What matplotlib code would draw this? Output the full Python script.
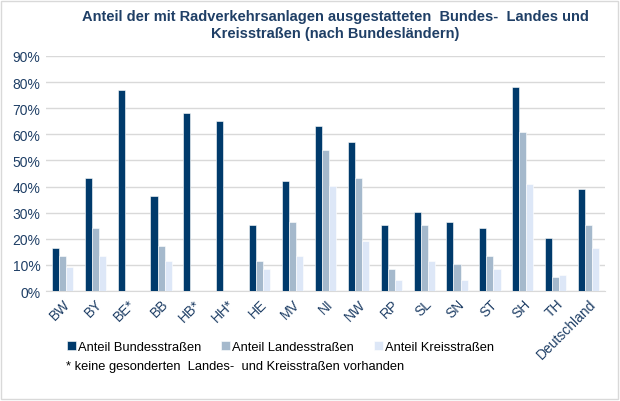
import numpy as np
import matplotlib.pyplot as plt

plt.rcParams['font.family'] = ['Liberation Sans', 'DejaVu Sans']

laender = ['BW', 'BY', 'BE*', 'BB', 'HB*', 'HH*', 'HE', 'MV', 'NI', 'NW',
           'RP', 'SL', 'SN', 'ST', 'SH', 'TH', 'Deutschland']
bund = [16.5, 43.3, 77, 36.4, 68.2, 65.2, 25.3, 42.2, 63.2, 57.1,
        25.3, 30.2, 26.5, 24.2, 78.2, 20.3, 39]
land = [13.3, 24, 0, 17.1, 0, 0, 11.5, 26.5, 54, 43.3,
        8.4, 25.3, 10.2, 13.3, 60.9, 5.3, 25.3]
kreis = [9.1, 13.3, 0, 11.5, 0, 0, 8.4, 13.3, 40.1, 19.1,
         4.2, 11.5, 4.2, 8.4, 41, 6.3, 16.3]
namen = ['Anteil Bundesstraßen', 'Anteil Landesstraßen', 'Anteil Kreisstraßen']
farben = ['#003a6b', '#a5b9cc', '#dde7f7']
textfarbe = '#1f3f66'

fig = plt.figure(figsize=(6.2, 4.02), dpi=100)
ax = fig.add_axes([46/620, 1 - 292/402, 559/620, 235/402])

x = np.arange(len(laender))
w = 0.215
for i, (werte, name) in enumerate(zip([bund, land, kreis], namen)):
    ax.bar(x + (i - 1) * w, werte, w, color=farben[i], label=name,
           edgecolor='white', linewidth=0.4, zorder=3)

ax.set_ylim(0, 90)
ax.set_xlim(-0.5, len(laender) - 0.5)
ax.set_yticks(range(0, 91, 10))
ax.set_yticklabels([f'{v}%' for v in range(0, 91, 10)], color=textfarbe, fontsize=10)
ax.set_xticks(x)
ax.set_xticklabels(laender, rotation=45, ha='right', rotation_mode='anchor',
                   color=textfarbe, fontsize=10)
ax.tick_params(length=0, pad=4)
ax.yaxis.grid(True, color='#d9d9d9', linewidth=1, zorder=0)
for s in ['top', 'right', 'left']:
    ax.spines[s].set_visible(False)
ax.spines['bottom'].set_color('#d9d9d9')

fig.text(335/620, 1 - 25.5/402, 'Anteil der mit Radverkehrsanlagen ausgestatteten  Bundes-  Landes und\n'
         'Kreisstraßen (nach Bundesländern)', ha='center', va='center',
         fontsize=10.5, fontweight='bold', color=textfarbe, linespacing=1.2)

fig.legend(loc='center left', bbox_to_anchor=(55/620, 1 - 348/402), ncol=3,
           frameon=False, fontsize=9.3, handlelength=0.7, handleheight=0.7,
           handletextpad=0.2, columnspacing=1.5, labelcolor='black')
fig.text(66/620, 1 - 367/402, '* keine gesonderten  Landes-  und Kreisstraßen vorhanden',
         fontsize=9.3, va='center', color='black')

fig.patches.append(plt.Rectangle((0.002, 0.004), 0.994, 0.992, transform=fig.transFigure,
                                 fill=False, edgecolor='#d9d9d9', linewidth=1))
fig.savefig('out.png', dpi=100)
